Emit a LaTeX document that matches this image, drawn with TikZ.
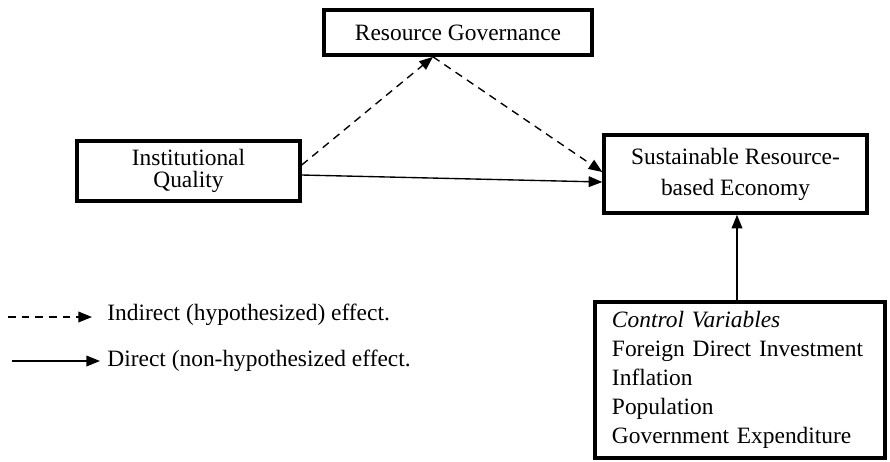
\documentclass[tikz,border=0pt]{standalone}
\usepackage{fontspec}
\setmainfont{Liberation Serif}
\usetikzlibrary{arrows.meta,calc}
\tikzset{
	varbox/.style={draw, line width=1.9pt, rectangle, align=center, inner sep=0pt},
	indirect/.style={line width=0.7pt, dash pattern=on 4pt off 3pt, -{Triangle[length=7pt,width=5.5pt]}},
	direct/.style={line width=0.7pt, -{Triangle[length=7pt,width=5.5pt]}},
	legendtext/.style={anchor=west, inner sep=0pt}
}

\begin{document}
\begin{tikzpicture}[x=0.018cm, y=-0.018cm, font=\fontsize{12}{14}\selectfont]
		%%%%% START %%%%%
		\useasboundingbox (0, 0) rectangle (890, 461);
		
		\node[varbox, minimum width=4.82cm, minimum height=0.81cm] (rg) at (458, 32.5) {Resource Governance};
		\node[varbox, minimum width=4.01cm, minimum height=1.08cm, font=\fontsize{12}{11.1}\selectfont] (iq) at (188.5, 171) {Institutional\\Quality};
		\node[varbox, minimum width=4.73cm, minimum height=1.40cm, font=\fontsize{12}{15.9}\selectfont] (sre) at (735.5, 174) {Sustainable Resource-\\based Economy};
		\node[varbox, align=left, minimum height=2.81cm, text width=4.61cm, inner xsep=0.306cm, font=\fontsize{12}{14.9}\selectfont] (cv) at (740, 380)
			{\textit{Control Variables}\\Foreign Direct Investment\\Inflation\\Population\\Government Expenditure};
		
		% paths between the boxes
		\coordinate (top) at ($(rg.south)+(-25, 0)$);
		\draw[indirect] ($(iq.east)+(0, -6)$) -- (top);
		\draw[indirect] (top) -- ($(sre.west)+(0, -2)$);
		\draw[direct] ($(iq.east)+(0, 4)$) -- ($(sre.west)+(0, 8)$);
		\draw[direct] (cv.north -| 737, 0) -- (sre.south -| 737, 0);
		
		% legend
		\node[legendtext] (leg1) at (107, 315) {Indirect (hypothesized) effect.};
		\node[legendtext] (leg2) at (107, 361) {Direct (non-hypothesized effect.};
		\coordinate (l1) at (8, 317);
		\coordinate (l2) at (12, 361);
		\draw[indirect] (l1) -- ($(leg1.west |- l1)+(-15, 0)$);
		\draw[direct] (l2) -- ($(leg2.west |- l2)+(-7, 0)$);
		
		%%%%% END %%%%%
	\end{tikzpicture}
\end{document}
